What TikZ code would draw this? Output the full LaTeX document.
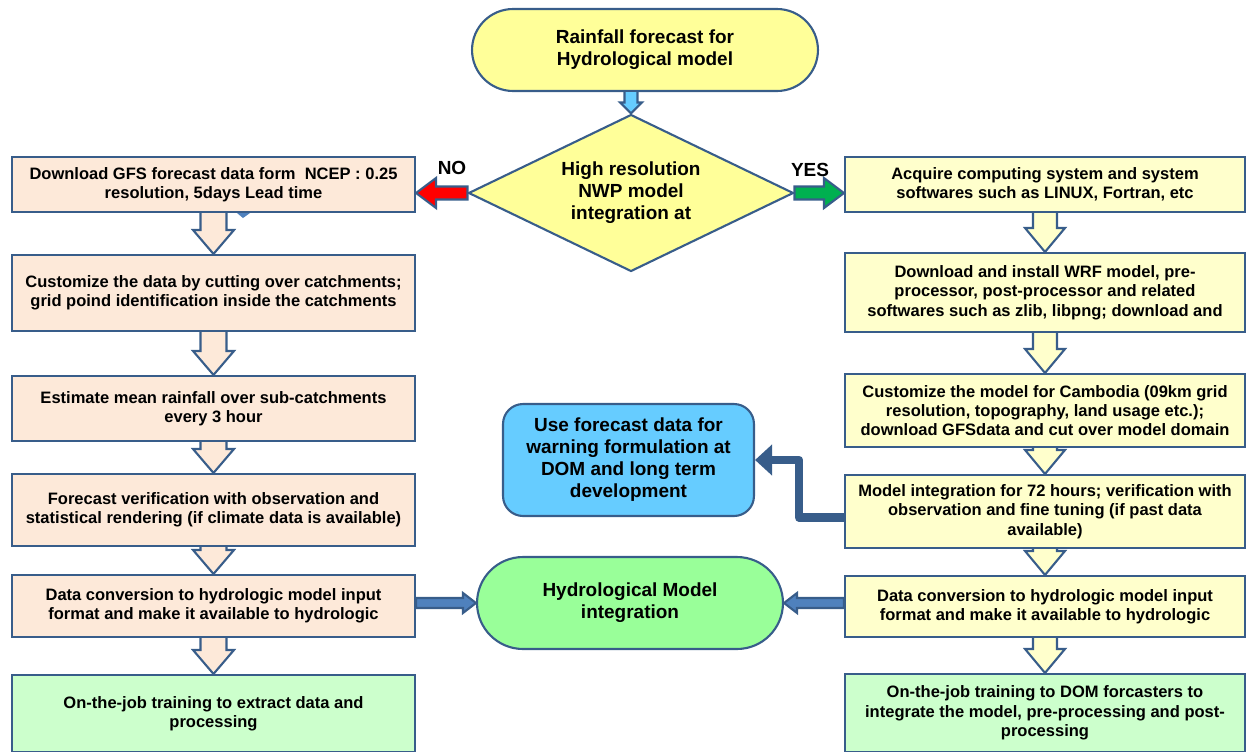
\documentclass[tikz,border=0pt]{standalone}
\usepackage{fontspec}
\setmainfont{Liberation Sans}
\usetikzlibrary{shapes.geometric,arrows.meta,calc}

\definecolor{edgeblue}{RGB}{56,93,138}
\definecolor{peach}{RGB}{253,233,217}
\definecolor{paleyellow}{RGB}{255,255,204}
\definecolor{startyellow}{RGB}{255,255,153}
\definecolor{palegreen}{RGB}{204,255,204}
\definecolor{hydrogreen}{RGB}{153,255,153}
\definecolor{skyblue}{RGB}{102,204,255}
\definecolor{flowblue}{RGB}{79,129,189}
\definecolor{yesgreen}{RGB}{0,176,80}

% hollow block arrow going down: from, to, fill, shaft half, head half, head length
\newcommand{\vblock}[6]{%
  \draw[edgeblue,line width=1.2pt,line join=miter,fill=#3] let \p1=(#1), \p2=(#2) in
    ({\x1-#4},\y1) -- ({\x1-#4},{\y2+#6}) -- ({\x1-#5},{\y2+#6}) -- (\x1,\y2)
    -- ({\x1+#5},{\y2+#6}) -- ({\x1+#4},{\y2+#6}) -- ({\x1+#4},\y1);}

% block arrow going sideways: from, to, fill, shaft half, head half, head length
\newcommand{\hblock}[6]{%
  \draw[edgeblue,line width=1.2pt,line join=miter,fill=#3] let \p1=(#1), \p2=(#2),
    \n1={ifthenelse(\x2>\x1,1,-1)} in
    (\x1,{\y1-#4}) -- ({\x2-\n1*#6},{\y1-#4}) -- ({\x2-\n1*#6},{\y1-#5}) -- (\x2,\y1)
    -- ({\x2-\n1*#6},{\y1+#5}) -- ({\x2-\n1*#6},{\y1+#4}) -- (\x1,{\y1+#4}) -- cycle;}

\begin{document}
\begin{tikzpicture}
  [x=0.02cm,y=-0.02cm,
   every node/.style={draw=edgeblue,line width=1.2pt,align=center,inner sep=2pt,
     font=\bfseries\fontsize{9.4}{11}\selectfont},
   big/.style={font=\bfseries\fontsize{10.8}{12.5}\selectfont},
   lbox/.style={rectangle,fill=peach,minimum width=8.06cm},
   rbox/.style={rectangle,fill=paleyellow,minimum width=8cm},
   endbox/.style={fill=palegreen},
   tag/.style={draw=none,big}]
  \useasboundingbox (0,0) rectangle (1248,751);

  \node[big,rectangle,rounded corners=0.82cm,fill=startyellow,minimum width=6.92cm,minimum height=1.64cm]
    (start) at (645,50) {Rainfall forecast for\\Hydrological model};
  \node[big,diamond,shape aspect=2.07,fill=startyellow,inner sep=0pt,minimum width=6.5cm,minimum height=3.14cm]
    (dec) at (631,193) {High resolution\\NWP model\\integration at};
  \node[tag] (no) at (452,168) {NO};
  \node[tag] (yes) at (810,170) {YES};

  % left column
  \node[lbox,minimum height=1.1cm]  (l1) at (213.5,184.5) {Download GFS forecast data form\ \ NCEP : 0.25\\resolution, 5days Lead time};
  \node[lbox,minimum height=1.52cm] (l2) at (213.5,293)   {Customize the data by cutting over catchments;\\grid poind identification inside the catchments};
  \node[lbox,minimum height=1.3cm]  (l3) at (213.5,408.5) {Estimate mean rainfall over sub-catchments\\every 3 hour};
  \node[lbox,minimum height=1.44cm] (l4) at (213.5,510)   {Forecast verification with observation and\\statistical rendering (if climate data is available)};
  \node[lbox,minimum height=1.24cm] (l5) at (213.5,606)   {Data conversion to hydrologic model input\\format and make it available to hydrologic};
  \node[lbox,endbox,minimum height=1.54cm] (l6) at (213.5,713.5) {On-the-job training to extract data and\\processing};

  % right column
  \node[rbox,minimum height=1.1cm]  (r1) at (1045,184.5) {Acquire computing system and system\\softwares such as LINUX, Fortran, etc};
  \node[rbox,minimum height=1.58cm] (r2) at (1045,292.5) {Download and install WRF model, pre-\\processor, post-processor and related\\softwares such as zlib, libpng; download and};
  \node[rbox,minimum height=1.46cm] (r3) at (1045,410.5) {Customize the model for Cambodia (09km grid\\resolution, topography, land usage etc.);\\download GFSdata and cut over model domain};
  \node[rbox,minimum height=1.46cm] (r4) at (1045,511.5) {Model integration for 72 hours; verification with\\observation and fine tuning (if past data\\available)};
  \node[rbox,minimum height=1.22cm] (r5) at (1045,606.5) {Data conversion to hydrologic model input\\format and make it available to hydrologic};
  \node[rbox,endbox,minimum height=1.56cm] (r6) at (1045,713) {On-the-job training to DOM forcasters to\\integrate the model, pre-processing and post-\\processing};

  % middle
  \node[big,rectangle,rounded corners=0.4cm,fill=skyblue,minimum width=5.02cm,minimum height=2.24cm]
    (info) at (628.5,460) {Use forecast data for\\warning formulation at\\DOM and long term\\development};
  \node[big,rectangle,rounded corners=0.92cm,fill=hydrogreen,minimum width=6.12cm,minimum height=1.84cm]
    (hydro) at (630,603) {Hydrological Model\\integration};

  % connectors
  \vblock{dec.north |- start.south}{dec.north}{skyblue}{0.13cm}{0.22cm}{0.22cm}
  \hblock{dec.west}{l1.east |- dec.west}{red}{0.13cm}{0.3cm}{0.4cm}
  \hblock{dec.east}{r1.west |- dec.east}{yesgreen}{0.13cm}{0.3cm}{0.4cm}

  \foreach \from/\to in {l1/l2,l2/l3,l3/l4,l4/l5,l5/l6}
    \vblock{\from.south}{\to.north}{peach}{0.26cm}{0.41cm}{0.48cm};
  \foreach \from/\to in {r1/r2,r2/r3,r3/r4,r4/r5,r5/r6}
    \vblock{\from.south}{\to.north}{paleyellow}{0.24cm}{0.4cm}{0.48cm};

  \hblock{l5.east |- hydro.west}{hydro.west}{flowblue}{0.1cm}{0.2cm}{0.26cm}
  \hblock{r5.west |- hydro.east}{hydro.east}{flowblue}{0.1cm}{0.2cm}{0.26cm}

  \draw[line width=5pt,edgeblue,line join=round,-{Triangle[length=0.34cm,width=0.6cm]}]
    ([yshift=-0.12cm]r4.west) -- ++(-45,0) |- (info.east);

  \fill[flowblue] (237,213) -- (250,213) -- (243,218) -- cycle;
\end{tikzpicture}
\end{document}
